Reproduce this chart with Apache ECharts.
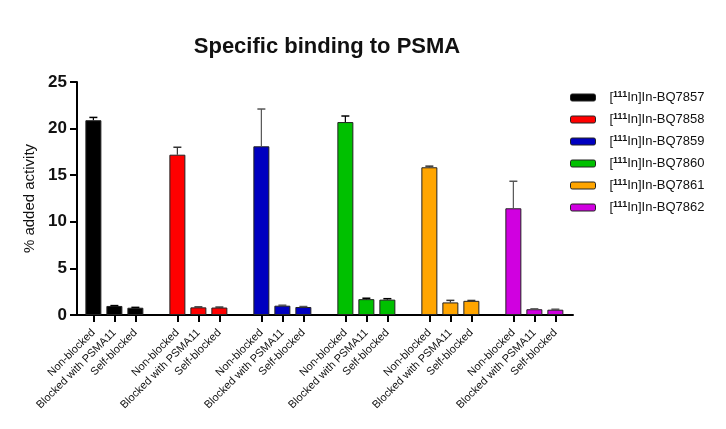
<!DOCTYPE html>
<html>
<head>
<meta charset="utf-8">
<script src="https://cdn.jsdelivr.net/npm/echarts@6/dist/echarts.min.js"></script>
<style>
html,body{margin:0;padding:0;background:#fff;}
#chart{width:726px;height:429px;}
</style>
</head>
<body>
<div id="chart"></div>
<script>
// conditions within each group
var conditions = ['Non-blocked', 'Blocked with PSMA11', 'Self-blocked'];
var compounds = ['BQ7857', 'BQ7858', 'BQ7859', 'BQ7860', 'BQ7861', 'BQ7862'];
var colors = ['#000000', '#ff0000', '#0000c0', '#00c000', '#ffa500', '#d000e0'];
var errColors = ['#000000', '#333333', '#555555', '#000000', '#333333', '#555555'];

// mean % added activity per compound (non-blocked, blocked PSMA11, self-blocked)
var bq7857 = [20.9, 0.97, 0.78];
var bq7858 = [17.2, 0.82, 0.80];
var bq7859 = [18.1, 1.00, 0.86];
var bq7860 = [20.7, 1.70, 1.65];
var bq7861 = [15.85, 1.35, 1.52];
var bq7862 = [11.45, 0.62, 0.57];
// error (SD) upward
var err7857 = [0.3, 0.04, 0.04];
var err7858 = [0.8, 0.05, 0.05];
var err7859 = [4.0, 0.05, 0.05];
var err7860 = [0.65, 0.1, 0.1];
var err7861 = [0.12, 0.22, 0.04];
var err7862 = [2.9, 0.04, 0.05];

var yTicks = [0, 5, 10, 15, 20, 25];

var means = [bq7857, bq7858, bq7859, bq7860, bq7861, bq7862];
var errs = [err7857, err7858, err7859, err7860, err7861, err7862];

var chart = echarts.init(document.getElementById('chart'));
var font = 'Liberation Sans, Arial, sans-serif';

var tickPos = [];
var tickName = {};
var series = [];
var errData = [];
means.forEach(function (m, g) {
    var d = [];
    m.forEach(function (v, b) {
        var x = g * 4 + b;
        tickPos.push(x);
        tickName[x] = conditions[b];
        d.push([x, v]);
        errData.push([x, v, v + errs[g][b], g]);
    });
    series.push({
        name: '[{s|111}In]In-' + compounds[g],
        type: 'bar',
        data: d,
        barWidth: 16,
        barGap: '-100%',
        itemStyle: {color: colors[g], borderColor: '#222', borderWidth: 1},
        z: 2
    });
});

series.push({
    type: 'custom',
    data: errData,
    z: 3,
    renderItem: function (params, api) {
        var x = api.value(0);
        var top = api.coord([x, api.value(1)]);
        var hi = api.coord([x, api.value(2)]);
        var c = errColors[api.value(3)];
        return {
            type: 'group',
            children: [
                {type: 'line', shape: {x1: top[0], y1: top[1], x2: hi[0], y2: hi[1]}, style: {stroke: c, lineWidth: 1.2}},
                {type: 'line', shape: {x1: hi[0] - 4, y1: hi[1], x2: hi[0] + 4, y2: hi[1]}, style: {stroke: c, lineWidth: 1.5}}
            ]
        };
    }
});

var option = {
    animation: false,
    backgroundColor: '#fff',
    title: {
        text: 'Specific binding to PSMA',
        left: 322,
        textAlign: 'center',
        top: 31,
        textStyle: {fontFamily: font, fontSize: 22, fontWeight: 'bold', color: '#111'}
    },
    legend: {
        orient: 'vertical',
        left: 570,
        top: 90,
        padding: 0,
        itemWidth: 25,
        itemHeight: 7,
        itemGap: 8,
        icon: 'roundRect',
        itemStyle: {borderColor: '#222', borderWidth: 1},
        textStyle: {
            fontFamily: font, fontSize: 13, color: '#111', padding: [0, 0, 0, 9],
            rich: {s: {fontFamily: font, fontSize: 9, fontWeight: 'bold', verticalAlign: 'top', padding: [0, 0, 6, 0], color: '#111'}}
        }
    },
    grid: {left: 77, right: 153, top: 82, bottom: 114},
    xAxis: {
        type: 'value',
        min: -0.78,
        max: 22.84,
        splitLine: {show: false},
        axisLine: {show: true, onZero: false, lineStyle: {color: '#000', width: 2}},
        axisTick: {show: true, customValues: tickPos, length: 7, lineStyle: {color: '#000', width: 2}},
        axisLabel: {
            customValues: tickPos,
            rotate: 45,
            margin: 16,
            fontFamily: font,
            fontSize: 11,
            color: '#111',
            formatter: function (v) { return tickName[Math.round(v)] || ''; }
        }
    },
    yAxis: {
        type: 'value',
        min: 0,
        max: 25,
        interval: 5,
        name: '% added activity',
        nameLocation: 'middle',
        nameGap: 31,
        nameTextStyle: {fontFamily: font, fontSize: 15, color: '#111'},
        splitLine: {show: false},
        axisLine: {show: true, onZero: false, lineStyle: {color: '#000', width: 2}},
        axisTick: {show: true, length: 7, lineStyle: {color: '#000', width: 2}},
        axisLabel: {
            fontFamily: font, fontSize: 17, fontWeight: 'bold', color: '#111', margin: 10,
            customValues: yTicks
        }
    },
    series: series
};
chart.setOption(option);
</script>
</body>
</html>
